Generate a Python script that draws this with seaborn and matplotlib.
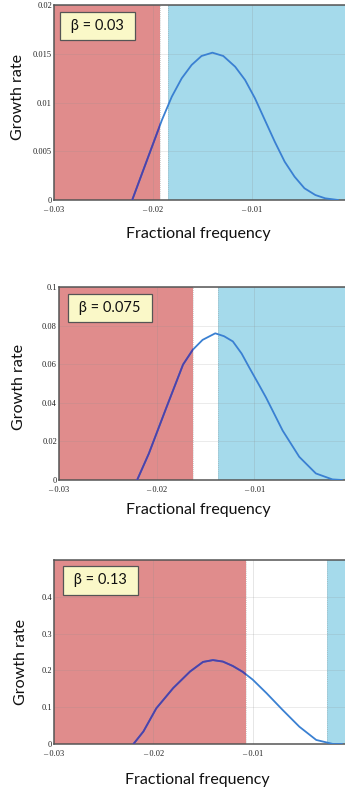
import matplotlib
matplotlib.use("Agg")
import matplotlib.pyplot as plt
import pandas as pd
import seaborn as sns

# Growth-rate curves versus fractional frequency, one per beta value
freq_a = [-0.0221, -0.0211, -0.0201, -0.0191, -0.0181, -0.0171, -0.0161, -0.0151,
          -0.0140, -0.0129, -0.0117, -0.0107, -0.0097, -0.0087, -0.0077, -0.0067,
          -0.0057, -0.0047, -0.0036, -0.0026, -0.0013]
rate_a = [0.0, 0.00274, 0.00547, 0.0082, 0.0106, 0.01248, 0.01385, 0.01477,
          0.01511, 0.01477, 0.01367, 0.01231, 0.01043, 0.0082, 0.00598, 0.00393,
          0.00239, 0.0012, 0.00051, 0.00017, 0.0]

freq_b = [-0.0220, -0.0208, -0.0190, -0.0173, -0.0163, -0.0153, -0.0140, -0.0131,
          -0.0122, -0.0113, -0.0105, -0.0096, -0.0088, -0.0071, -0.0054, -0.0037,
          -0.0020, -0.0010]
rate_b = [0.0, 0.0137, 0.0376, 0.0598, 0.0675, 0.0726, 0.0760, 0.0745,
          0.0718, 0.0655, 0.0581, 0.0500, 0.0427, 0.0256, 0.0120, 0.0034,
          0.0003, 0.0]

freq_c = [-0.0220, -0.0210, -0.0197, -0.0180, -0.0163, -0.0150, -0.0140, -0.0130,
          -0.0120, -0.0110, -0.0100, -0.0086, -0.0070, -0.0053, -0.0036, -0.0019,
          -0.0010]
rate_c = [0.0, 0.034, 0.097, 0.152, 0.197, 0.223, 0.228, 0.224,
          0.212, 0.196, 0.175, 0.138, 0.093, 0.047, 0.011, 0.0, 0.0]

betas = ["0.03", "0.075", "0.13"]
red_until = [-0.0193, -0.0163, -0.0107]
blue_from = [-0.0185, -0.0137, -0.0025]

ytick_values = [[0, 0.005, 0.01, 0.015, 0.02],
                [0, 0.02, 0.04, 0.06, 0.08, 0.1],
                [0, 0.1, 0.2, 0.3, 0.4]]
ytick_labels = [["0", "0.005", "0.01", "0.015", "0.02"],
                ["0", "0.02", "0.04", "0.06", "0.08", "0.1"],
                ["0", "0.1", "0.2", "0.3", "0.4"]]
ytops = [0.02, 0.1, 0.5]
xtick_values = [-0.03, -0.02, -0.01]
xtick_labels = ["\u2013 0.03", "\u2013 0.02", "\u2013 0.01"]

curves = [(freq_a, rate_a), (freq_b, rate_b), (freq_c, rate_c)]

sns.set_theme(style="white")
plt.rcParams["font.family"] = ["Lato", "DejaVu Sans"]

W, H = 345, 793
fig = plt.figure(figsize=(W / 100, H / 100), dpi=100)

# panel frames in pixels: left, top, width, height
frames = [(54, 5, 297, 195), (59, 287, 293, 193), (54, 560, 298, 184)]
ylabel_pos = [(-0.098, 0.53), (-0.113, 0.48), (-0.087, 0.446)]
xlabel_pos = [(0.485, -0.138), (0.474, -0.119), (0.48, -0.158)]
box_pos = [(0.045, 0.892), (0.056, 0.891), (0.055, 0.889)]

RED = "#e08c8c"
BLUE = "#a5daeb"
LINE = "#3a80d2"
LINE_ON_RED = "#5040a8"

for i, (fx, fy) in enumerate(curves):
    l, t, w, h = frames[i]
    ax = fig.add_axes([l / W, 1 - (t + h) / H, w / W, h / H])
    ax.set_xlim(-0.03, 0.0)
    ax.set_ylim(0, ytops[i])

    red = ax.axvspan(-0.03, red_until[i], color=RED, lw=0, zorder=0)
    ax.axvspan(blue_from[i], 0.0, color=BLUE, lw=0, zorder=0)
    for xe in (red_until[i], blue_from[i]):
        ax.axvline(xe, color="#999999", lw=0.6, ls=(0, (1, 1.5)), alpha=0.6, zorder=1)

    for yv in ytick_values[i][1:]:
        ax.axhline(yv, color="#8c8c8c", lw=0.6, alpha=0.2, zorder=1)
    for xv in xtick_values[1:]:
        ax.axvline(xv, color="#8c8c8c", lw=0.6, alpha=0.25, zorder=1)

    df = pd.DataFrame({"freq": fx, "rate": fy})
    sns.lineplot(data=df, x="freq", y="rate", ax=ax, color=LINE, lw=1.3, zorder=3)
    sns.lineplot(data=df, x="freq", y="rate", ax=ax, color=LINE_ON_RED, lw=1.3, zorder=4)
    ax.lines[-1].set_clip_path(red)

    ax.set_xticks(xtick_values)
    ax.set_xticklabels(xtick_labels)
    ax.set_yticks(ytick_values[i])
    ax.set_yticklabels(ytick_labels[i])
    for lab in ax.get_xticklabels() + ax.get_yticklabels():
        lab.set_fontfamily("Liberation Serif")
        lab.set_fontsize(6)
        lab.set_color("#222222")
    ax.tick_params(axis="y", length=0, pad=1.5)
    ax.tick_params(axis="x", length=0, pad=4.5)

    for side in ("left", "bottom", "top"):
        ax.spines[side].set_color("#555555")
        ax.spines[side].set_linewidth(1.1)
    ax.spines["right"].set_visible(False)

    ax.set_xlabel("Fractional frequency", fontsize=11.5, color="#111111")
    ax.set_ylabel("Growth rate", fontsize=11.5, color="#111111")
    ax.xaxis.set_label_coords(*xlabel_pos[i])
    ax.yaxis.set_label_coords(*ylabel_pos[i])

    bx, by = box_pos[i]
    ax.text(bx, by, " \u03b2 = " + betas[i] + " ", transform=ax.transAxes,
            fontsize=10.5, ha="left", va="center", color="#111111", zorder=6,
            bbox=dict(boxstyle="square,pad=0.5", fc="#faf8c8", ec="#555555", lw=0.9))

fig.savefig("out.png", dpi=100)
